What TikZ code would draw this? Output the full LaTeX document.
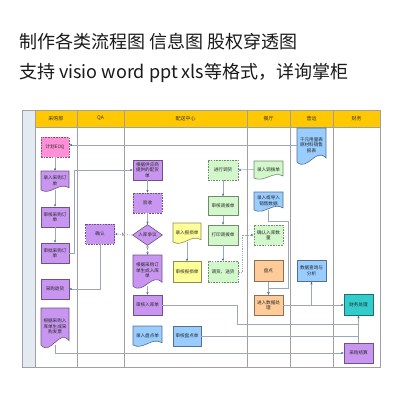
\documentclass[tikz,border=0pt]{standalone}
\usepackage{fontspec}
\newfontfamily\cjk{Noto Sans CJK SC}
\usetikzlibrary{shapes.geometric,arrows.meta}
\definecolor{cpur}{HTML}{C896F0}
\definecolor{cpink}{HTML}{FF8FD6}
\definecolor{cgreen}{HTML}{D2F7CA}
\definecolor{cyel}{HTML}{FFFF99}
\definecolor{cblue}{HTML}{99CCFF}
\definecolor{corange}{HTML}{FFCC99}
\definecolor{cteal}{HTML}{33CCCC}
\definecolor{chead}{HTML}{FFC800}
\definecolor{cline}{HTML}{9AA8B8}
\definecolor{carrow}{HTML}{3F5F90}
\definecolor{cstrip}{HTML}{E4EAF2}
\definecolor{cframe}{HTML}{A0A0A0}
\newcommand\bxfont{\cjk\fontsize{4.6}{5.5}\selectfont}
\tikzset{
  bx/.style={draw=#1!55!black, fill=#1, line width=0.6pt, inner sep=0.5pt,
    font=\bxfont, align=center, text=black!85},
  dbx/.style={bx=#1, line width=0.9pt, dash pattern=on 1.6pt off 1.1pt},
  lnk/.style={draw=cline, line width=0.6pt},
  arr/.style={lnk, -{Stealth[length=2.6pt,width=2.2pt,color=carrow]}},
  darr/.style={arr, dash pattern=on 1.2pt off 1pt},
  colline/.style={draw=cframe, line width=0.9pt},
  hdr/.style={font=\cjk\fontsize{5}{6}\selectfont, text=black!80},
  lab/.style={font=\cjk\fontsize{4.6}{5}\selectfont, fill=white, inner sep=0.3pt, text=black!80}
}
\newcommand\docnode[7]{%
  \pgfmathsetmacro\dW{#4-#2}%
  \pgfmathsetmacro\dH{#5-#3}%
  \path[draw=#6!55!black, fill=#6, line width=0.6pt] (#2,#3) -- (#4,#3) -- (#4,{#5-0.12*\dH})
    .. controls ({#4-0.35*\dW},{#5-0.45*\dH}) and ({#2+0.35*\dW},{#5+0.3*\dH}) .. (#2,#5) -- cycle;
  \node[inner sep=0pt, minimum width=\dW pt, minimum height=\dH pt, font=\bxfont,
    align=center, text=black!85] (#1) at ({(#2+#4)/2},{(#3+#5)/2}) {#7};%
}
\begin{document}
\begin{tikzpicture}[x=1pt,y=-1pt]
\useasboundingbox[fill=white] (0,0) rectangle (400,400);
% titles
\node[anchor=west, inner sep=0, font=\cjk\fontsize{18}{20}\selectfont, text=black!90] (t1) at (19,42) {制作各类流程图 信息图 股权穿透图};
\node[anchor=west, inner sep=0, font=\cjk\fontsize{18}{20}\selectfont, text=black!90] (t2) at (19,73) {支持 visio word ppt xls等格式，详询掌柜};
% frame
\fill[cstrip] (22,110) rectangle (35,367);
\fill[chead] (35,110) rectangle (380,127);
\draw[colline] (22,110) rectangle (380,367);
\foreach \x in {35,77,124,247,290,333} {\draw[colline] (\x,110) -- (\x,367);}
\draw[colline] (35,127) -- (380,127);
\node[hdr] (h1) at (56,118.5) {采购部};
\node[hdr] (h2) at (100.5,118.5) {QA};
\node[hdr] (h3) at (185.5,118.5) {配送中心};
\node[hdr] (h4) at (268.5,118.5) {餐厅};
\node[hdr] (h5) at (311.5,118.5) {营运};
\node[hdr] (h6) at (356.5,118.5) {财务};
% purchase column
\node[dbx=cpink, minimum width=28pt, minimum height=20pt] (eoq) at (55,147) {计划EOQ};
\docnode{lr}{41}{171}{69}{190}{cpur}{录入采购订\\单}
\node[bx=cpur, minimum width=28pt, minimum height=20pt] (sh) at (55,217) {审核采购订\\单};
\node[bx=cpur, minimum width=28pt, minimum height=20pt] (sp) at (55,253) {审批采购订\\单};
\node[bx=cpur, minimum width=28pt, minimum height=20pt] (th) at (55,289) {采购退货};
\docnode{fp}{41}{308}{69}{345}{cpur}{根据采购入\\库单生成采\\购发票}
% QA
\node[dbx=cpur, minimum width=29pt, minimum height=20pt] (qr) at (100,234) {确认};
% distribution center
\node[bx=cpur, minimum width=29pt, minimum height=20pt] (ph) at (147.5,170) {根据供应商\\提供的配货\\单};
\node[dbx=cpur, minimum width=29pt, minimum height=20pt] (ys) at (147.5,203) {验收};
\node[diamond, bx=cpur, minimum width=30pt, minimum height=21pt, inner sep=0pt, aspect=1.4] (dia) at (147.5,235) {入库争议};
\docnode{rk}{133}{255}{162}{286}{cpur}{根据采购订\\单生成入库\\单}
\node[bx=cpur, minimum width=29pt, minimum height=20pt] (shr) at (147.5,305) {审核入库单};
\docnode{lpd}{133}{326}{162}{345}{cblue}{录入盘点单}
\node[bx=cblue, minimum width=28pt, minimum height=20pt] (spd) at (187,336) {审核盘点单};
\docnode{lbs}{173}{223}{201}{242}{cyel}{录入报损单}
\node[bx=cyel, minimum width=28pt, minimum height=21pt] (sbs) at (187,272) {审核报损单};
\node[dbx=cgreen, minimum width=30pt, minimum height=20pt] (jx) at (223,170) {进行调货};
\node[bx=cgreen, minimum width=30pt, minimum height=19pt] (sdb) at (223,206) {审核调拨单};
\node[bx=cgreen, minimum width=30pt, minimum height=20pt] (ddb) at (223,235) {打印调拨单};
\node[dbx=cgreen, minimum width=30pt, minimum height=21pt] (dh) at (223,272) {调货、送货};
% restaurant
\docnode{ldb}{254}{161}{283}{178}{cgreen}{录入调拨单}
\docnode{xs}{254}{192}{283}{210}{cblue}{录入或导入\\销售数据}
\node[dbx=cgreen, minimum width=29pt, minimum height=20pt] (qrk) at (268.5,235) {确认入库数\\量};
\node[bx=corange, minimum width=29pt, minimum height=21pt] (pd) at (268.5,271) {盘点};
\node[bx=corange, minimum width=29pt, minimum height=20pt] (jd) at (268.5,305) {进入数据处\\理};
% operations
\docnode{qy}{297}{128}{326}{162}{cblue}{千元用量表\\原材料销售\\报表}
\node[bx=cblue, minimum width=29pt, minimum height=21pt] (sj) at (311.5,271) {数据查询与\\分析};
% finance
\node[bx=cteal, minimum width=29pt, minimum height=21pt] (cw) at (358.5,305) {财务处理};
\node[bx=cpur, minimum width=29pt, minimum height=20pt] (js) at (358.5,353) {采购结算};
% connectors
\draw[arr] (qy.west) -- (eoq.east |- qy.west);
\draw[arr] (eoq.south) -- (lr.north);
\draw[arr] (lr.south) -- (sh.north);
\draw[arr] (sh.south) -- (sp.north);
\draw[arr] (sp.east) -- ++(5,0) |- (ph.west);
\draw[arr] (ph.south) -- (ys.north);
\draw[arr] (ys.south) -- (dia.north);
\draw[darr] (dia.west) -- node[lab] {N} (qr.east);
\draw[arr] (dia.south) -- node[lab, pos=0.35] {Y} (rk.north);
\draw[arr] (qr.south) |- (th.east);
\draw[arr] (rk.south) -- (shr.north);
\draw[lnk] (shr.east) -| (237,324) -- (cw.south |- 0,324);
\draw[lnk] (spd.east) -- (cw.south |- spd.east);
\draw[arr] (fp.south) |- (js.west);
\draw[arr] (js.north) -- (cw.south);
\draw[arr] (lbs.south) -- (sbs.north);
\draw[arr] (jx.south) -- (sdb.north);
\draw[arr] (sdb.south) -- (ddb.north);
\draw[arr] (ddb.south) -- (dh.north);
\draw[arr] (ldb.west) -- (jx.east);
\draw[darr] (dh.east) -- ++(4,0) |- (qrk.west);
\draw[arr] (xs.south) |- (288,221) |- (268.5,288) -- (jd.north);
\draw[arr] (pd.south) -- (jd.north);
\draw[arr] (jd.east) -- (cw.west);
\draw[arr] (sj.south |- jd.east) -- (sj.south);
\end{tikzpicture}
\end{document}
